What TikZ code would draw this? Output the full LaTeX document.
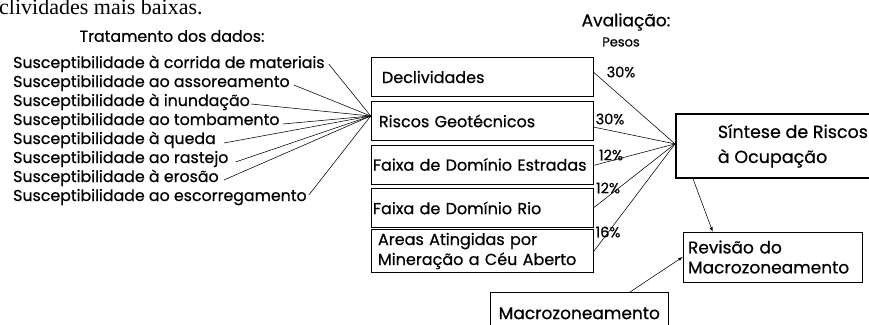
\documentclass[tikz,border=0pt]{standalone}
\usepackage{fontspec}
\setmainfont{Poppins}[FakeBold=0.6]
\newfontfamily\textoserif{Liberation Serif}
\tikzset{>=latex}
\tikzset{
  caixa/.style={draw, line width=0.6pt, minimum width=222pt, minimum height=39pt,
    text width=218pt, align=left, inner xsep=2pt, font=\fontsize{16}{20}\selectfont},
  item/.style={anchor=base west, inner sep=0pt, font=\fontsize{15.8}{17}\selectfont},
  peso/.style={inner sep=0pt, font=\fontsize{14.5}{16}\selectfont},
  liga/.style={line width=0.55pt}
}

\begin{document}
\begin{tikzpicture}[x=1pt,y=-1pt]
  \useasboundingbox (0,0) rectangle (869,324);
  % line of text cut at the top
  \node[anchor=base west, inner sep=0pt, font=\textoserif\fontsize{22}{24}\selectfont] (corte) at (-1,14) {clividades mais baixas.};
  % data treatment
  \node[inner sep=0pt, font=\fontsize{15.8}{17}\selectfont] (trat) at (172,36) {Tratamento dos dados:};
  \foreach \t [count=\i] in {Susceptibilidade à corrida de materiais,
    Susceptibilidade ao assoreamento, Susceptibilidade à inundação,
    Susceptibilidade ao tombamento, Susceptibilidade à queda,
    Susceptibilidade ao rastejo, Susceptibilidade à erosão,
    Susceptibilidade ao escorregamento} {
    \node[item] (s\i) at (13,{49+19*\i}) {\t};
  }
  % factor boxes
  \node[caixa] (decl) at (482,77) {\hspace*{9pt}Declividades};
  \node[caixa] (riscos) at (482,121) {\hspace*{6pt}Riscos Geotécnicos};
  \node[caixa] (estradas) at (482,164.5) {Faixa de Domínio Estradas};
  \node[caixa] (rio) at (482,208) {Faixa de Domínio Rio};
  \node[caixa] (areas) at (482,251) {\hspace*{5pt}Areas Atingidas por\\\hspace*{5pt}Mineração a Céu Aberto};
  % weights
  \node[font=\fontsize{17}{19}\selectfont, inner sep=0pt] (aval) at (626,22) {Avaliação:};
  \node[peso, font=\fontsize{13}{15}\selectfont] (pesos) at (621,42) {Pesos};
  \node[peso] (p1) at (621,72) {30\%};
  \node[peso] (p2) at (610,119) {30\%};
  \node[peso] (p3) at (611,155) {12\%};
  \node[peso] (p4) at (608,188) {12\%};
  \node[peso] (p5) at (608,232) {16\%};
  % synthesis and revision
  \node[draw, line width=1.8pt, minimum width=234pt, minimum height=64pt, align=left,
    anchor=north west, font=\fontsize{17.5}{25}\selectfont] (sintese) at (675,113) {Síntese de Riscos\\à Ocupação};
  \node[draw, line width=0.6pt, minimum width=179pt, minimum height=50pt, text width=175pt,
    align=left, inner xsep=2pt, font=\fontsize{17}{20}\selectfont] (revisao) at (772.5,257) {\hspace*{3pt}Revisão do\\\hspace*{3pt}Macrozoneamento};
  \node[draw, line width=0.6pt, minimum width=178pt, minimum height=42pt,
    anchor=north west, font=\fontsize{17}{19}\selectfont] (macro) at (490,292) {Macrozoneamento};
  % lines into Riscos Geotecnicos
  \foreach \i/\dx/\dy in {1/4/4, 2/4/2, 3/1/2, 4/3/1, 5/8/1, 6/7/1, 7/5/2, 8/2/6} {
    \draw[liga] ([xshift=\dx pt,yshift=\dy pt]s\i.base east) -- ([yshift=5pt]riscos.west);
  }
  % lines into the synthesis
  \draw[liga] ([yshift=5pt]decl.east) -- ([yshift=2pt]sintese.west);
  \draw[liga] ([yshift=-6pt]riscos.east) -- ([yshift=2pt]sintese.west);
  \draw[liga] ([yshift=-1pt]estradas.east) -- ([yshift=2pt]sintese.west);
  \draw[liga] (rio.east) -- ([yshift=2pt]sintese.west);
  \draw[liga] ([yshift=-1pt]areas.east) -- ([yshift=2pt]sintese.west);
  % arrows to the revision
  \draw[liga,->] ([xshift=18pt]sintese.south west) -- ([xshift=30pt]revisao.north west);
  \draw[liga,->] ([xshift=140pt]macro.north west) -- (revisao.west);
\end{tikzpicture}
\end{document}
